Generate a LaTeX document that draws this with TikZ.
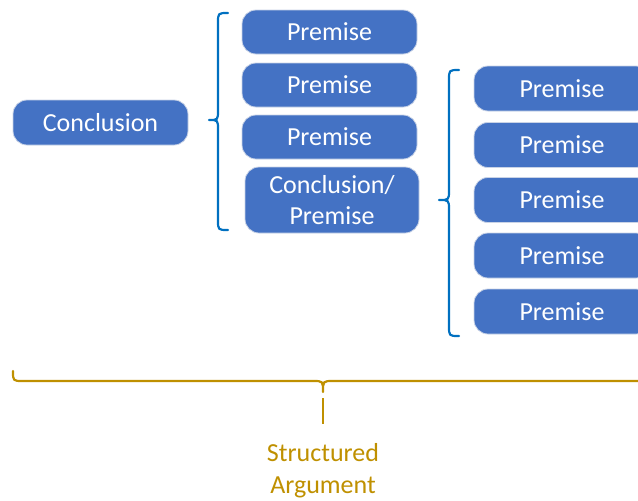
\documentclass[tikz,border=0pt]{standalone}
\usepackage{fontspec}
\setmainfont{Carlito}
\definecolor{boxblue}{HTML}{4472C4}
\definecolor{boxedge}{HTML}{C9D3E6}
\definecolor{braceblue}{HTML}{0070C0}
\definecolor{gold}{HTML}{BF9000}
\tikzset{
  argbox/.style={rectangle, rounded corners=14pt, fill=boxblue, draw=boxedge,
    line width=0.8pt, text=white, align=center, inner sep=0pt,
    font=\fontsize{26}{31}\selectfont},
  bracepath/.style={line width=2.2pt, line cap=round, line join=round},
}
\begin{document}
\begin{tikzpicture}[x=1pt,y=-1pt]
\useasboundingbox (0,0) rectangle (638,501);
\clip (0,0) rectangle (638,501);

% main conclusion
\node[argbox, minimum width=175pt, minimum height=45pt] (c0) at (100.5,122.5) {Conclusion};

% first level of premises
\node[argbox, minimum width=175pt, minimum height=44pt] (p1) at (329.5,32) {Premise};
\node[argbox, minimum width=175pt, minimum height=44pt] (p2) at (329.5,85) {Premise};
\node[argbox, minimum width=175pt, minimum height=44pt] (p3) at (329.5,137) {Premise};
\node[argbox, minimum width=174pt, minimum height=66pt] (cp) at (332,200) {Conclusion/\\Premise};

% second level of premises
\node[argbox, minimum width=176pt, minimum height=45pt] (q1) at (562,88.5) {Premise};
\node[argbox, minimum width=176pt, minimum height=45pt] (q2) at (562,145) {Premise};
\node[argbox, minimum width=176pt, minimum height=45pt] (q3) at (562,200) {Premise};
\node[argbox, minimum width=176pt, minimum height=45pt] (q4) at (562,255.5) {Premise};
\node[argbox, minimum width=176pt, minimum height=45pt] (q5) at (562,311.5) {Premise};

% brace grouping the first level
\draw[bracepath, braceblue] (228,13) .. controls (218,13) .. (218,23) -- (218,110)
  .. controls (218,120) .. (209,120) .. controls (218,120) .. (218,130)
  -- (218,220) .. controls (218,230) .. (228,230);

% brace grouping the second level
\draw[bracepath, braceblue] (459,70) .. controls (449,70) .. (449,80) -- (449,190)
  .. controls (449,200) .. (439,200) .. controls (449,200) .. (449,210)
  -- (449,326) .. controls (449,336) .. (459,336);

% brace under the whole argument
\draw[bracepath, gold] (13,371) .. controls (13,381) .. (23,381) -- (313,381)
  .. controls (323,381) .. (323,392) .. controls (323,381) .. (333,381) -- (660,381);

\coordinate (stemtop) at (323,398);
\node[text=gold, align=center, font=\fontsize{26}{32}\selectfont] (lbl) at (323,471) {Structured\\Argument};
\coordinate (stembot) at (323,424);
\draw[line width=2pt, gold] (stemtop) -- (stembot);
\end{tikzpicture}
\end{document}
